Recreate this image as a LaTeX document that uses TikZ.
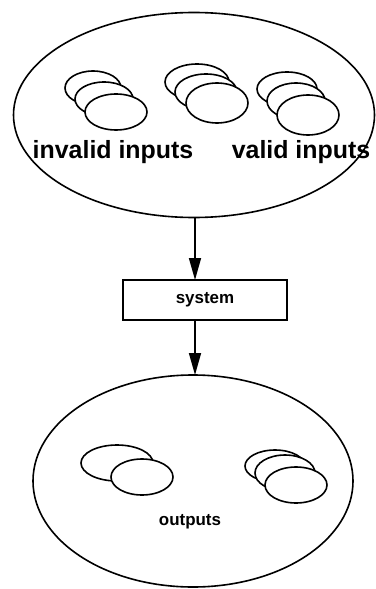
\documentclass[tikz,border=0pt]{standalone}
\usepackage{fontspec}
\setmainfont{Liberation Sans}
\usetikzlibrary{positioning,shapes.geometric,arrows.meta}

\begin{document}
\begin{tikzpicture}[x=1bp,y=-1bp,line width=1.6bp,
    set/.style={draw,ellipse,inner sep=0pt},
    blob/.style={draw,fill=white},
    flow/.style={-{Triangle[width=12bp,length=22bp]}},
    big/.style={font=\bfseries\fontsize{25}{25}\selectfont,anchor=base},
    small/.style={font=\bfseries\fontsize{17}{17}\selectfont}]
  \useasboundingbox (0,0) rectangle (375,589);

  % input and output sets
  \node[set,minimum width=361bp,minimum height=205bp] (inputs) at (194,115) {};
  \node[set,minimum width=320bp,minimum height=212bp] (outputs) at (193,481) {};

  % groups of inputs
  \draw[blob] (93,88) ellipse [x radius=28,y radius=17];
  \draw[blob] (104,99) ellipse [x radius=29,y radius=17];
  \draw[blob] (116,112) ellipse [x radius=31,y radius=18];

  \draw[blob] (197,82) ellipse [x radius=32,y radius=18];
  \draw[blob] (206,92) ellipse [x radius=31,y radius=18];
  \draw[blob] (217,103) ellipse [x radius=31,y radius=20];

  \draw[blob] (287,89) ellipse [x radius=30,y radius=17];
  \draw[blob] (296,101) ellipse [x radius=29,y radius=18];
  \draw[blob] (308,115) ellipse [x radius=31,y radius=20];

  \node[big] (invalid) at (113,159) {invalid inputs};
  \node[big] (valid) at (301,159) {valid inputs};

  % the system
  \node[draw,small,minimum width=164bp,minimum height=40bp] (system) at (205,300) {system};

  % groups of outputs
  \draw[blob] (117,463) ellipse [x radius=36,y radius=18];
  \draw[blob] (142,477) ellipse [x radius=31,y radius=18];

  \draw[blob] (275,466) ellipse [x radius=30,y radius=16];
  \draw[blob] (285,473) ellipse [x radius=30,y radius=18];
  \draw[blob] (296,485) ellipse [x radius=31,y radius=18];

  \node[small] (outlabel) at (190,522) {outputs};

  \coordinate (in1) at (195,218);
  \coordinate (in2) at (195,280);
  \coordinate (out1) at (195,320);
  \coordinate (out2) at (195,375);
  \draw[flow] (in1) -- (in2);
  \draw[flow] (out1) -- (out2);
\end{tikzpicture}
\end{document}
